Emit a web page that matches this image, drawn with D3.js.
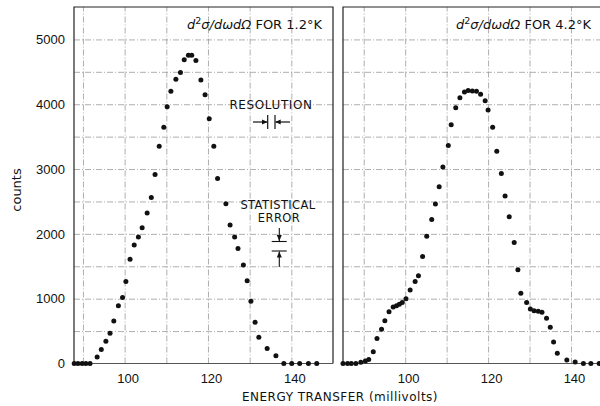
<!DOCTYPE html>
<html>
<head>
<meta charset="utf-8">
<script src="https://cdn.jsdelivr.net/npm/d3@7"></script>
<style>
  body { margin: 0; background: #fff; }
  svg { display: block; font-family: "DejaVu Sans", sans-serif; }
  .grid line { stroke: #9a9a9a; stroke-width: 0.8; stroke-dasharray: 6,2,1,2; }
  .grid path { display: none; }
  .lbl path, .lbl line { display: none; }
  .lbl text { fill: #111; font-size: 13px; }
</style>
</head>
<body>
<svg id="chart" width="600" height="406"></svg>
<script>
// 1.2 K run
const energyLow = [87.9, 88.8, 89.8, 90.7, 91.7, 93.4, 94.4, 95.5, 96.5, 97.4, 98.5, 99.5, 100.3, 101.3, 102.3,
  103.3, 104.2, 105.4, 106.4, 107.3, 108.3, 109.4, 110.2, 111.1, 112.3, 113.4, 114.3, 115.3, 116.1, 117.1,
  118.3, 119.3, 120.3, 121.4, 122.3, 124.3, 125.3, 126.4, 127.2, 128.5, 129.4, 130.3, 131.3, 132.2, 134.2,
  136.3, 138.2, 140.1, 142.0, 144.1, 146.1];
const countsLow = [0, 0, 0, 0, 0, 100, 215, 345, 465, 655, 890, 1020, 1265, 1610, 1830,
  1950, 2095, 2320, 2560, 2915, 3350, 3645, 3960, 4200, 4385, 4490, 4685, 4755, 4755, 4675,
  4375, 4145, 3775, 3350, 2855, 2465, 2135, 1950, 1775, 1520, 1275, 960, 635, 405, 230,
  120, 0, 0, 0, 0, 0];

// 4.2 K run
const energyHigh = [85.0, 86.1, 87.0, 88.1, 89.3, 90.4, 91.2, 92.3, 93.2, 94.3, 95.1, 96.1, 97.1, 97.9,
  98.6, 99.3, 100.2, 101.2, 102.4, 103.2, 104.2, 105.2, 106.4, 107.3, 108.2, 109.1, 110.4, 111.1, 112.2,
  113.2, 114.3, 115.2, 116.2, 117.2, 118.2, 119.3, 120.0, 121.1, 122.1, 123.2, 124.1, 125.1, 126.3, 127.2,
  127.9, 129.3, 130.2, 131.1, 132.1, 133.0, 134.1, 135.0, 135.8, 136.7, 139.0, 141.0, 143.0, 144.8, 146.8];
const countsHigh = [0, 0, 0, 0, 20, 40, 60, 180, 385, 530, 660, 800, 870, 890,
  915, 940, 1000, 1135, 1265, 1355, 1650, 1965, 2220, 2460, 2725, 3030, 3365, 3685, 3945,
  4100, 4190, 4210, 4205, 4200, 4155, 4055, 3910, 3645, 3275, 2930, 2585, 2265, 1865, 1445,
  1085, 940, 840, 815, 805, 790, 700, 560, 330, 160, 55, 25, 0, 0, 0];

const countTicks = [0, 1000, 2000, 3000, 4000, 5000];
const countGrid = [500, 1000, 1500, 2000, 2500, 3000, 3500, 4000, 4500, 5000];
const energyTicks = [100, 120, 140];
const energyGrid = [90, 100, 110, 120, 130, 140];

const svg = d3.select("#chart");
const y = d3.scaleLinear().domain([0, 5500]).range([363.5, 7]);

const panels = [
  { temp: "1.2°K", energy: energyLow, counts: countsLow, domain: [87.85, 150], range: [74, 333], frameRight: 333, titleEnd: 322 },
  { temp: "4.2°K", energy: energyHigh, counts: countsHigh, domain: [85, 147], range: [343, 600], frameRight: 604, titleEnd: 591 }
];

panels.forEach((p, i) => {
  const x = d3.scaleLinear().domain(p.domain).range(p.range);
  const g = svg.append("g");
  const left = p.range[0], right = p.frameRight;
  const top = y.range()[1], bottom = y.range()[0];

  // dashed grid
  g.append("g").attr("class", "grid")
    .attr("transform", `translate(${left},0)`)
    .call(d3.axisLeft(y).tickValues(countGrid).tickSize(-(right - left)).tickFormat(""));
  g.append("g").attr("class", "grid")
    .attr("transform", `translate(0,${bottom})`)
    .call(d3.axisBottom(x).tickValues(energyGrid).tickSize(-(bottom - top)).tickFormat(""));

  // frame: heavy top/left/right, lighter bottom
  g.append("path")
    .attr("d", `M${left},${bottom}V${top}H${right}V${bottom}`)
    .attr("fill", "none").attr("stroke", "#222").attr("stroke-width", 1.2);
  g.append("line")
    .attr("x1", left).attr("x2", right).attr("y1", bottom).attr("y2", bottom)
    .attr("stroke", "#555").attr("stroke-width", 1);

  // points
  g.selectAll("circle.pt")
    .data(d3.zip(p.energy, p.counts))
    .join("circle")
    .attr("class", "pt")
    .attr("cx", d => x(d[0]))
    .attr("cy", d => y(d[1]))
    .attr("r", 2.5)
    .attr("fill", "#111");

  // x tick labels
  g.append("g").attr("class", "lbl")
    .attr("transform", `translate(3,${bottom + 10})`)
    .call(d3.axisBottom(x).tickValues(energyTicks).tickSize(0).tickPadding(0).tickFormat(d3.format("d")));

  if (i === 0) {
    g.append("g").attr("class", "lbl")
      .attr("transform", `translate(${left},0)`)
      .call(d3.axisLeft(y).tickValues(countTicks).tickSize(0).tickPadding(9).tickFormat(d3.format("d")));
  }

  // title
  const t = g.append("text")
    .attr("x", p.titleEnd).attr("y", 29)
    .attr("text-anchor", "end")
    .attr("font-size", 13).attr("fill", "#111");
  t.append("tspan").attr("font-style", "italic").text("d");
  t.append("tspan").attr("font-size", 9.5).attr("dy", -5).text("2");
  t.append("tspan").attr("font-style", "italic").attr("dy", 5).text("σ/dωdΩ");
  t.append("tspan").text(" FOR " + p.temp);
});

// annotations in the 1.2 K panel
const ann = svg.append("g").attr("fill", "#111").attr("stroke", "#111");
ann.append("text").attr("x", 271).attr("y", 109).attr("text-anchor", "middle")
  .attr("stroke", "none").attr("font-size", 12).attr("letter-spacing", 0.6).text("RESOLUTION");
ann.append("line").attr("x1", 267.7).attr("x2", 267.7).attr("y1", 115).attr("y2", 129).attr("stroke-width", 1.2);
ann.append("line").attr("x1", 275).attr("x2", 275).attr("y1", 115).attr("y2", 129).attr("stroke-width", 1.2);
ann.append("line").attr("x1", 253).attr("x2", 267).attr("y1", 122).attr("y2", 122).attr("stroke-width", 1.2);
ann.append("line").attr("x1", 275.5).attr("x2", 290).attr("y1", 122).attr("y2", 122).attr("stroke-width", 1.2);
ann.append("path").attr("stroke", "none").attr("d", "M267.5,122L262,119.5L262,124.5Z");
ann.append("path").attr("stroke", "none").attr("d", "M275.2,122L280.7,119.5L280.7,124.5Z");

ann.append("text").attr("x", 278).attr("y", 209).attr("text-anchor", "middle")
  .attr("stroke", "none").attr("font-size", 11.5).attr("letter-spacing", 0.4).text("STATISTICAL");
ann.append("text").attr("x", 279).attr("y", 222).attr("text-anchor", "middle")
  .attr("stroke", "none").attr("font-size", 11.5).attr("letter-spacing", 0.4).text("ERROR");
ann.append("line").attr("x1", 279.3).attr("x2", 279.3).attr("y1", 228).attr("y2", 241).attr("stroke-width", 1.1);
ann.append("line").attr("x1", 271.7).attr("x2", 286.7).attr("y1", 241.5).attr("y2", 241.5).attr("stroke-width", 1.1);
ann.append("line").attr("x1", 271.7).attr("x2", 286.7).attr("y1", 251).attr("y2", 251).attr("stroke-width", 1.1);
ann.append("line").attr("x1", 279.3).attr("x2", 279.3).attr("y1", 251.5).attr("y2", 267).attr("stroke-width", 1.1);
ann.append("path").attr("stroke", "none").attr("d", "M279.3,241L276.8,235L281.8,235Z");
ann.append("path").attr("stroke", "none").attr("d", "M279.3,251.5L276.8,257.5L281.8,257.5Z");

// axis titles
svg.append("text")
  .attr("transform", "translate(21,190) rotate(-90)")
  .attr("text-anchor", "middle").attr("font-size", 13).attr("fill", "#111")
  .text("counts");
svg.append("text")
  .attr("x", 340).attr("y", 401).attr("text-anchor", "middle")
  .attr("font-size", 12).attr("letter-spacing", 0.5).attr("fill", "#111")
  .text("ENERGY TRANSFER (millivolts)");
</script>
</body>
</html>
